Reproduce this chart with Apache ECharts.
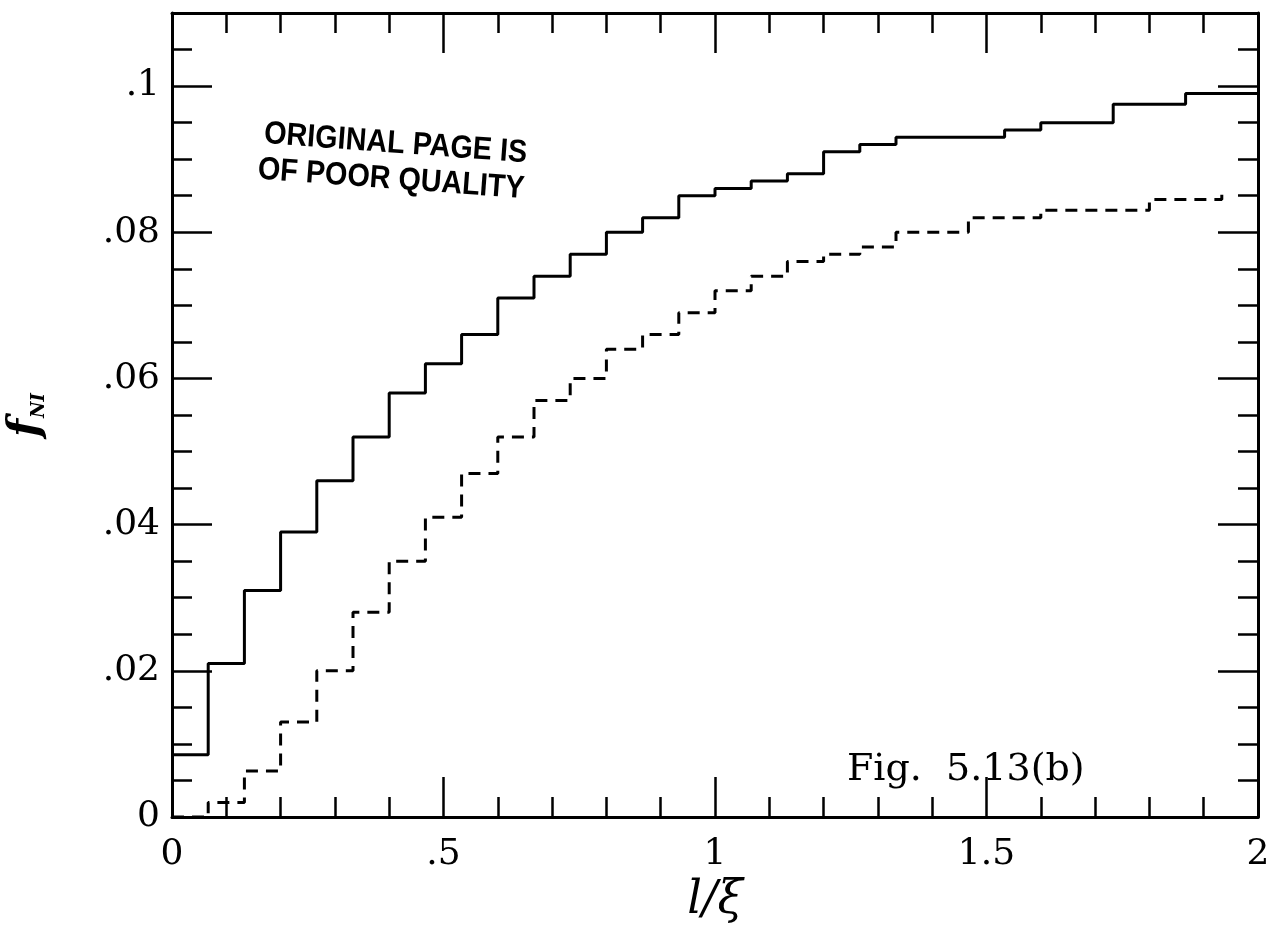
<!DOCTYPE html>
<html>
<head>
<meta charset="utf-8">
<title>f_NI vs l/xi</title>
<script src="https://cdn.jsdelivr.net/npm/echarts@6/dist/echarts.min.js"></script>
<style>
  html, body { margin: 0; padding: 0; background: #fff; }
  #chart { width: 1287px; height: 930px; }
</style>
</head>
<body>
<div id="chart"></div>
<script>
// Histogram bins: 30 equal bins spanning l/xi = 0 .. 2
const X_MIN = 0;
const X_MAX = 2;
const BIN_COUNT = 30;

// Solid histogram, one value per bin
const solidValues = [
  0.0085, 0.021, 0.031, 0.039, 0.046, 0.052, 0.058, 0.062, 0.066, 0.071,
  0.074, 0.077, 0.080, 0.082, 0.085, 0.086, 0.087, 0.088, 0.091, 0.092,
  0.093, 0.093, 0.093, 0.094, 0.095, 0.095, 0.0975, 0.0975, 0.099, 0.099
];

// Dashed histogram, one value per bin (the last bin shows only its rising edge)
const dashedValues = [
  0, 0.002, 0.0063, 0.013, 0.020, 0.028, 0.035, 0.041, 0.047, 0.052,
  0.057, 0.060, 0.064, 0.066, 0.069, 0.072, 0.074, 0.076, 0.077, 0.078,
  0.080, 0.080, 0.082, 0.082, 0.083, 0.083, 0.083, 0.0845, 0.0845, 0.0855
];

// Axis tick settings
const xMajorStep = 0.5;
const xMinorSplit = 5;    // minor tick every 0.1
const yMax = 0.11;
const yMajorStep = 0.02;
const yMinorSplit = 4;    // minor tick every 0.005

const binWidth = (X_MAX - X_MIN) / BIN_COUNT;

// Points at each bin's left edge; with step:'end' each value is held across its bin
function stepPoints(values, closeRight) {
  const pts = values.map((v, i) => [X_MIN + i * binWidth, v]);
  if (closeRight) pts.push([X_MAX, values[values.length - 1]]);
  return pts;
}

// ".5", ".08", "0", "1.5" style labels
function tickLabel(v) {
  if (Math.abs(v) < 1e-12) return '0';
  const s = String(+v.toFixed(4));
  return s.replace(/^0\./, '.');
}

const FONT_SERIF = 'DejaVu Serif';
const INK = '#000';

const chart = echarts.init(document.getElementById('chart'), null, { renderer: 'canvas' });

const tickStyle = { color: INK, width: 2.5 };

const xBase = {
  type: 'value',
  min: X_MIN,
  max: X_MAX,
  interval: xMajorStep,
  splitLine: { show: false },
  axisLine: { show: true, onZero: false, lineStyle: { color: INK, width: 3 } },
  axisTick: { show: true, inside: true, length: 40, lineStyle: tickStyle },
  minorTick: { show: true, splitNumber: xMinorSplit, length: 20, lineStyle: tickStyle },
  minorSplitLine: { show: false }
};

const yBase = {
  type: 'value',
  min: 0,
  max: yMax,
  interval: yMajorStep,
  splitLine: { show: false },
  axisLine: { show: true, onZero: false, lineStyle: { color: INK, width: 3 } },
  axisTick: { show: true, inside: true, length: 40, lineStyle: tickStyle },
  minorTick: { show: true, splitNumber: yMinorSplit, length: 20, lineStyle: tickStyle },
  minorSplitLine: { show: false }
};

const option = {
  backgroundColor: '#fff',
  animation: false,
  grid: {
    left: 172, right: 29, top: 13, bottom: 113,
    containLabel: false,
    outerBoundsMode: 'none'
  },
  xAxis: [
    Object.assign({}, xBase, {
      position: 'bottom',
      name: 'l/\u03BE',
      nameLocation: 'middle',
      nameGap: 42,
      nameTextStyle: { fontFamily: FONT_SERIF, fontStyle: 'italic', fontSize: 46, color: INK },
      axisLabel: {
        show: true, margin: 20, color: INK, fontFamily: FONT_SERIF, fontSize: 36,
        formatter: tickLabel
      }
    }),
    Object.assign({}, xBase, {
      position: 'top',
      axisLabel: { show: false }
    })
  ],
  yAxis: [
    Object.assign({}, yBase, {
      position: 'left',
      name: '{f|f}{s|NI}',
      nameLocation: 'middle',
      nameRotate: 90,
      nameGap: 124,
      nameTextStyle: {
        color: INK,
        rich: {
          f: { fontFamily: FONT_SERIF, fontStyle: 'italic', fontWeight: 'bold', fontSize: 42, lineHeight: 44, color: INK, verticalAlign: 'bottom' },
          s: { fontFamily: FONT_SERIF, fontStyle: 'italic', fontWeight: 'bold', fontSize: 18, lineHeight: 44, color: INK, verticalAlign: 'bottom', padding: [0, 0, 0, 1] }
        }
      },
      axisLabel: {
        show: true, margin: 12, color: INK, fontFamily: FONT_SERIF, fontSize: 36,
        showMaxLabel: false,
        formatter: tickLabel
      }
    }),
    Object.assign({}, yBase, { position: 'right', axisLabel: { show: false } })
  ],
  series: [
    {
      name: 'solid',
      type: 'line',
      step: 'end',
      xAxisIndex: 0,
      yAxisIndex: 0,
      showSymbol: false,
      symbol: 'none',
      data: stepPoints(solidValues, true),
      lineStyle: { color: INK, width: 3 },
      z: 3
    },
    {
      name: 'dashed',
      type: 'line',
      step: 'end',
      xAxisIndex: 0,
      yAxisIndex: 0,
      showSymbol: false,
      symbol: 'none',
      data: stepPoints(dashedValues, false),
      lineStyle: { color: INK, width: 3, type: [12, 8] },
      z: 3
    }
  ],
  graphic: [
    {
      type: 'group',
      x: 263,
      y: 150,
      rotation: -0.074,
      scaleX: 0.9,
      children: [
        {
          type: 'text',
          x: 0, y: 0,
          style: {
            text: 'ORIGINAL PAGE IS',
            font: 'bold 32px "Liberation Sans", Arial, sans-serif',
            fill: INK,
            textAlign: 'left',
            textVerticalAlign: 'bottom'
          }
        },
        {
          type: 'text',
          x: -4, y: 36,
          style: {
            text: 'OF POOR QUALITY',
            font: 'bold 32px "Liberation Sans", Arial, sans-serif',
            fill: INK,
            textAlign: 'left',
            textVerticalAlign: 'bottom'
          }
        }
      ]
    },
    {
      type: 'text',
      x: 847,
      y: 751,
      style: {
        text: 'Fig.  5.13(b)',
        font: '38px "DejaVu Serif", serif',
        fill: INK,
        textAlign: 'left',
        textVerticalAlign: 'alphabetic'
      }
    }
  ]
};

chart.setOption(option);
</script>
</body>
</html>
